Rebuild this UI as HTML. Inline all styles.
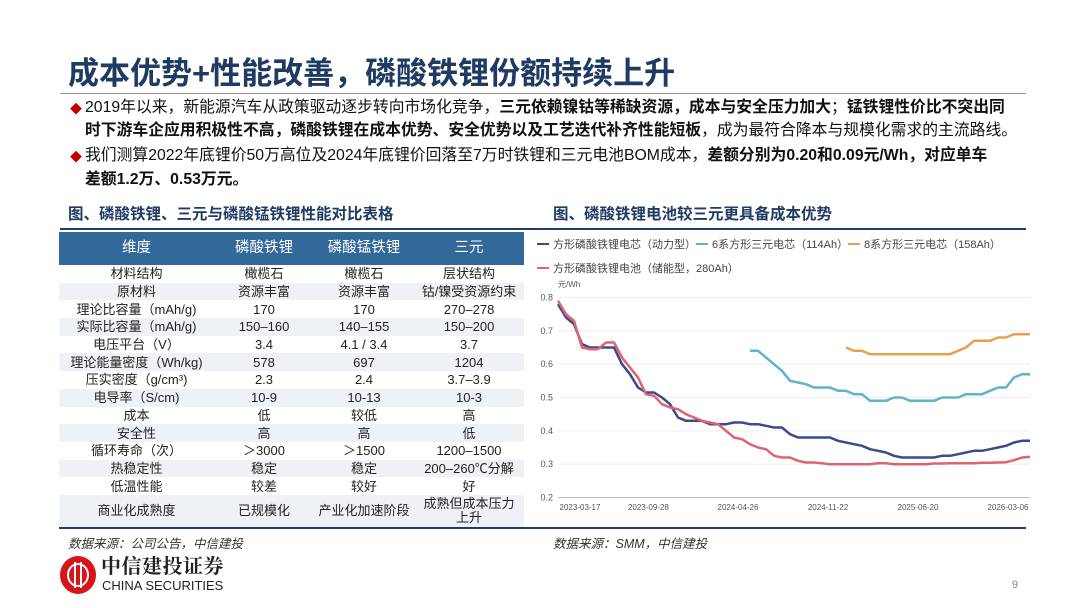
<!DOCTYPE html>
<html><head><meta charset="utf-8">
<style>
body{margin:0;width:1080px;height:608px;background:#fff;position:relative;overflow:hidden;font-family:"Liberation Sans","Noto Sans CJK SC",sans-serif;}
.abs{position:absolute;}
.title{left:68px;top:48px;font-size:31px;font-weight:bold;color:#1f3b63;white-space:nowrap;}
.bul{left:85px;font-size:15.8px;color:#111;white-space:nowrap;line-height:20px;}
.dia{position:absolute;left:-15px;top:1px;color:#c00000;font-size:12px;}
.sec{font-size:15.5px;font-weight:bold;color:#1f3b63;top:202px;}
table{border-collapse:collapse;font-size:13px;color:#222;}
td,th{padding:0;text-align:center;height:17.7px;line-height:15px;white-space:nowrap;}
th{background:#33689a;color:#fff;font-weight:normal;font-size:14.5px;height:33px;}
tr.g td{background:#eef1f5;}
.src{font-size:12.5px;font-style:italic;color:#333;top:533px;}
</style></head><body>
<div class="abs title">成本优势+性能改善，磷酸铁锂份额持续上升</div>
<div class="abs" style="left:60px;top:93px;width:966px;height:1px;background:#999"></div>
<div class="abs bul" style="top:98px"><span class="dia">◆</span>2019年以来，新能源汽车从政策驱动逐步转向市场化竞争，<b>三元依赖镍钴等稀缺资源，成本与安全压力加大</b>；<b>锰铁锂性价比不突出同</b></div>
<div class="abs bul" style="top:121px"><b>时下游车企应用积极性不高，磷酸铁锂在成本优势、安全优势以及工艺迭代补齐性能短板</b>，成为最符合降本与规模化需求的主流路线。</div>
<div class="abs bul" style="top:146px"><span class="dia">◆</span>我们测算2022年底锂价50万高位及2024年底锂价回落至7万时铁锂和三元电池BOM成本，<b>差额分别为0.20和0.09元/Wh，对应单车</b></div>
<div class="abs bul" style="top:170px"><b>差额1.2万、0.53万元。</b></div>
<div class="abs sec" style="left:68px">图、磷酸铁锂、三元与磷酸锰铁锂性能对比表格</div>
<div class="abs sec" style="left:553px">图、磷酸铁锂电池较三元更具备成本优势</div>
<div class="abs" style="left:60px;top:228px;width:966px;height:2px;background:#1f3b63"></div>

<table class="abs" style="left:59px;top:232px;width:465px">
<colgroup><col style="width:155px"><col style="width:100px"><col style="width:100px"><col style="width:110px"></colgroup>
<tr><th>维度</th><th>磷酸铁锂</th><th>磷酸锰铁锂</th><th>三元</th></tr>
<tr><td>材料结构</td><td>橄榄石</td><td>橄榄石</td><td>层状结构</td></tr>
<tr class="g"><td>原材料</td><td>资源丰富</td><td>资源丰富</td><td>钴/镍受资源约束</td></tr>
<tr><td>理论比容量（mAh/g)</td><td>170</td><td>170</td><td>270–278</td></tr>
<tr class="g"><td>实际比容量（mAh/g)</td><td>150–160</td><td>140–155</td><td>150–200</td></tr>
<tr><td>电压平台（V）</td><td>3.4</td><td>4.1 / 3.4</td><td>3.7</td></tr>
<tr class="g"><td>理论能量密度（Wh/kg)</td><td>578</td><td>697</td><td>1204</td></tr>
<tr><td>压实密度（g/cm³)</td><td>2.3</td><td>2.4</td><td>3.7–3.9</td></tr>
<tr class="g"><td>电导率（S/cm)</td><td>10-9</td><td>10-13</td><td>10-3</td></tr>
<tr><td>成本</td><td>低</td><td>较低</td><td>高</td></tr>
<tr class="g"><td>安全性</td><td>高</td><td>高</td><td>低</td></tr>
<tr><td>循环寿命（次）</td><td>＞3000</td><td>＞1500</td><td>1200–1500</td></tr>
<tr class="g"><td>热稳定性</td><td>稳定</td><td>稳定</td><td>200–260℃分解</td></tr>
<tr><td>低温性能</td><td>较差</td><td>较好</td><td>好</td></tr>
<tr class="g"><td style="height:32px">商业化成熟度</td><td>已规模化</td><td>产业化加速阶段</td><td style="line-height:14px">成熟但成本压力<br>上升</td></tr>
</table>
<div class="abs" style="left:59px;top:527px;width:967px;height:2px;background:#1f3b63"></div>
<div class="abs src" style="left:68px">数据来源：公司公告，中信建投</div>
<div class="abs src" style="left:553px">数据来源：SMM，中信建投</div>

<svg class="abs" style="left:0;top:0" width="1080" height="608" id="chart"></svg>

<div class="abs" style="left:60px;top:556px;width:36px;height:38px;border-radius:50%;background:#d7141a">
<div style="position:absolute;left:7px;top:7px;width:22px;height:24px;border-radius:50%;border:2px solid #fff;box-sizing:border-box"></div>
<div style="position:absolute;left:14px;top:6px;width:2px;height:26px;background:#fff"></div>
<div style="position:absolute;left:20px;top:6px;width:2px;height:26px;background:#fff"></div>
</div>
<div class="abs" style="left:101px;top:553px;font-size:20px;line-height:24px;font-weight:bold;color:#222;font-family:'Noto Serif CJK SC',serif;letter-spacing:0.5px">中信建投证券</div>
<div class="abs" style="left:102px;top:579px;font-size:13px;line-height:14px;color:#222">CHINA SECURITIES</div>
<div class="abs" style="left:1012px;top:579px;font-size:11px;color:#888">9</div>

<script>
const tickLabels=["2023-03-17","2023-09-28","2024-04-26","2024-11-22","2025-06-20","2026-03-06"];
const tickIdx=[2.75,11.3,22.5,33.75,45,56.25];
const yTicks=[0.2,0.3,0.4,0.5,0.6,0.7,0.8];
const seriesNames=["方形磷酸铁锂电芯（动力型）","6系方形三元电芯（114Ah）","8系方形三元电芯（158Ah）","方形磷酸铁锂电池（储能型，280Ah）"];
const lfpPower=[.78,.74,.72,.66,.65,.65,.65,.65,.60,.57,.53,.515,.515,.50,.48,.44,.43,.43,.43,.42,.42,.42,.425,.425,.42,.42,.415,.41,.41,.39,.38,.38,.38,.38,.38,.37,.365,.36,.355,.345,.34,.335,.325,.32,.32,.32,.32,.32,.325,.325,.33,.335,.34,.34,.345,.35,.355,.365,.37,.37];
const ncm6=[null,null,null,null,null,null,null,null,null,null,null,null,null,null,null,null,null,null,null,null,null,null,null,null,.64,.64,.62,.60,.58,.55,.545,.54,.53,.53,.53,.52,.52,.51,.51,.49,.49,.49,.50,.50,.49,.49,.49,.49,.50,.50,.50,.51,.51,.51,.52,.53,.53,.56,.57,.57];
const ncm8=[null,null,null,null,null,null,null,null,null,null,null,null,null,null,null,null,null,null,null,null,null,null,null,null,null,null,null,null,null,null,null,null,null,null,null,null,.65,.64,.64,.63,.63,.63,.63,.63,.63,.63,.63,.63,.63,.63,.64,.65,.67,.67,.67,.68,.68,.69,.69,.69];
const lfpStorage=[.79,.75,.73,.65,.645,.645,.665,.665,.62,.59,.56,.51,.505,.48,.47,.465,.45,.44,.43,.425,.42,.40,.38,.375,.36,.35,.345,.325,.32,.32,.31,.305,.305,.303,.30,.30,.30,.30,.30,.30,.303,.303,.30,.30,.30,.30,.30,.302,.302,.303,.303,.303,.303,.304,.304,.305,.306,.312,.32,.322];
const colors=["#3d4a8c","#5fb3cc","#e6a050","#e06470"];
const NS="http://www.w3.org/2000/svg";
const svg=document.getElementById('chart');
const X0=558,X1=1030,Y0=497.5,Y1=297.5;
const xs=i=>X0+i*(X1-X0)/(lfpPower.length-1);
const ys=v=>Y0-(v-0.2)/(0.6)*(Y0-Y1);
function mk(t,a){const e=document.createElementNS(NS,t);for(const k in a)e.setAttribute(k,a[k]);svg.appendChild(e);return e;}
yTicks.forEach(v=>{
  const l=mk('line',{x1:X0,x2:X1,y1:ys(v),y2:ys(v),stroke:v===0.2?'#bbb':'#eee','stroke-width':1});
  
  
  const t=mk('text',{x:553,y:ys(v)+3,'font-size':9,'text-anchor':'end',fill:'#555'});
  t.textContent=v.toFixed(1);
  
  
});
const u=mk('text',{x:558,y:287,'font-size':8,fill:'#555'});u.textContent='元/Wh';


tickLabels.forEach((s,k)=>{
  const t=mk('text',{x:xs(tickIdx[k]),y:510,'font-size':8,'text-anchor':'middle',fill:'#555'});
  t.textContent=s;
  
  
});
[lfpPower,ncm6,ncm8,lfpStorage].forEach((d,si)=>{
  let p='';d.forEach((v,i)=>{if(v!==null)p+=(p?'L':'M')+xs(i).toFixed(1)+' '+ys(v).toFixed(1);});
  const e=mk('path',{d:p,fill:'none',stroke:colors[si],'stroke-width':2.5,'stroke-linejoin':'round'});
  
  
});
const lg=[[537,244],[696,244],[848,244],[537,268]];
seriesNames.forEach((n,i)=>{
  const l=mk('line',{x1:lg[i][0],x2:lg[i][0]+12,y1:lg[i][1],y2:lg[i][1],stroke:colors[i],'stroke-width':2});
  
  
  const t=mk('text',{x:lg[i][0]+16,y:lg[i][1]+4,'font-size':11,fill:'#444'});
  t.textContent=n;
  
  
});
</script>
</body></html>
